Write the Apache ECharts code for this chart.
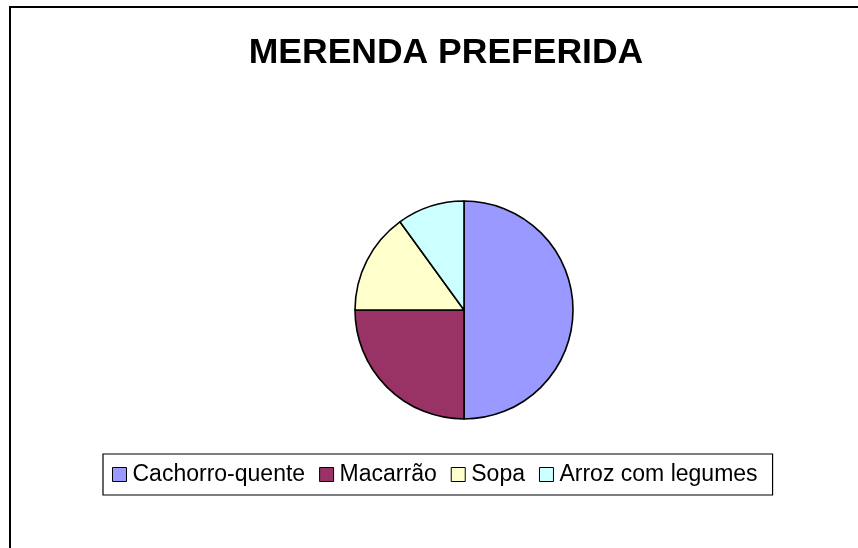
<!DOCTYPE html>
<html>
<head>
<meta charset="utf-8">
<script src="https://cdn.jsdelivr.net/npm/echarts@6/dist/echarts.min.js"></script>
<style>
  html, body { margin: 0; padding: 0; background: #fff; }
  #chart { width: 858px; height: 548px; }
</style>
</head>
<body>
<div id="chart"></div>
<script>
const categories = ["Cachorro-quente", "Macarrão", "Sopa", "Arroz com legumes"];
const values = [50, 25, 15, 10];
const colors = ["#9999FF", "#993366", "#FFFFCC", "#CCFFFF"];

const chart = echarts.init(document.getElementById("chart"));

chart.setOption({
  backgroundColor: "#ffffff",
  animation: false,
  textStyle: { fontFamily: "Liberation Sans, Arial, sans-serif" },
  // moldura do gráfico (passa da borda da imagem à direita e embaixo)
  graphic: [{
    type: "rect",
    shape: { x: 10, y: 7, width: 1000, height: 700 },
    style: { fill: "none", stroke: "#000", lineWidth: 2 },
    silent: true
  }],
  title: {
    text: "MERENDA PREFERIDA",
    left: 441,
    top: 30,
    textAlign: "center",
    textStyle: {
      fontFamily: "Liberation Sans, Arial, sans-serif",
      fontSize: 35.5,
      fontWeight: "bold",
      color: "#000"
    }
  },
  legend: {
    data: categories,
    left: 103,
    top: 454,
    orient: "horizontal",
    icon: "rect",
    itemWidth: 14,
    itemHeight: 14,
    itemGap: 14,
    padding: [9, 15, 9, 9],
    borderColor: "#000",
    borderWidth: 1.2,
    itemStyle: { borderColor: "#000", borderWidth: 1 },
    textStyle: {
      fontFamily: "Liberation Sans, Arial, sans-serif",
      fontSize: 23,
      color: "#000",
      padding: [0, 0, 0, 1]
    }
  },
  series: [{
    type: "pie",
    center: [464, 310],
    radius: 109,
    startAngle: 90,
    clockwise: true,
    label: { show: false },
    labelLine: { show: false },
    emphasis: { disabled: true },
    itemStyle: { borderColor: "#000", borderWidth: 1.6 },
    data: categories.map((name, i) => ({
      name,
      value: values[i],
      itemStyle: { color: colors[i] }
    }))
  }]
});
</script>
</body>
</html>
